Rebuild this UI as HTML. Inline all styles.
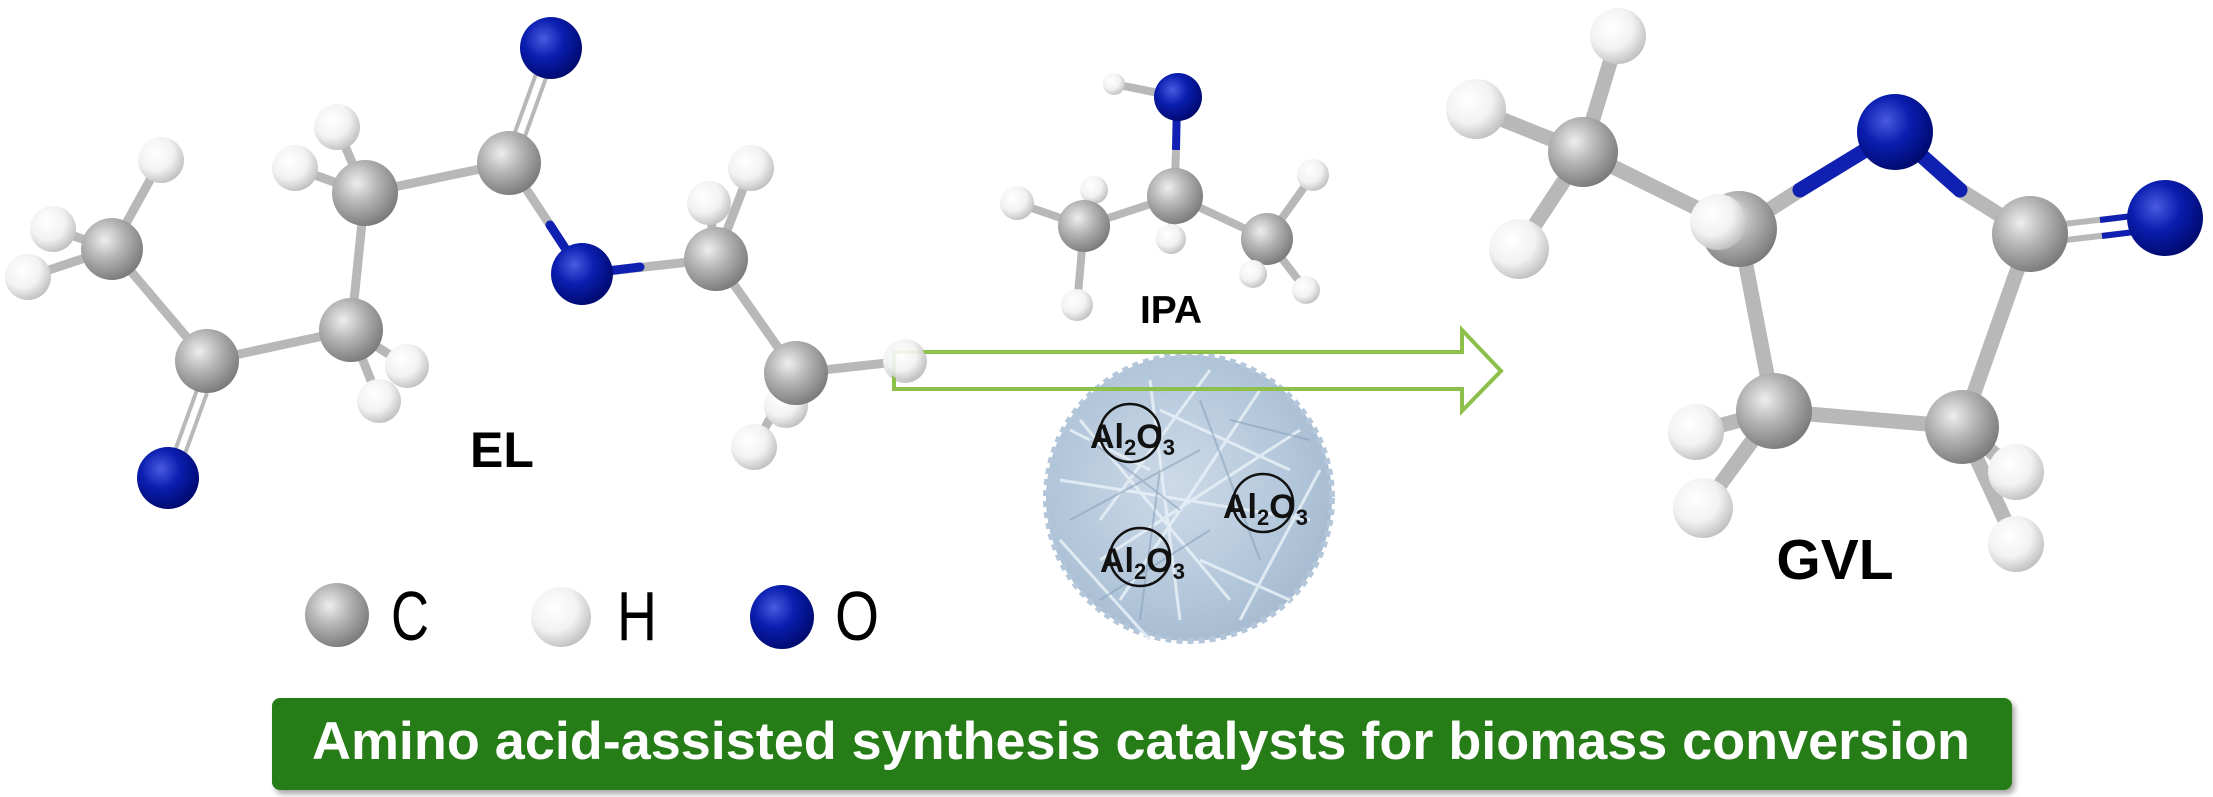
<!DOCTYPE html>
<html><head><meta charset="utf-8"><style>
html,body{margin:0;padding:0;background:#fff;}
svg{display:block;}
text{font-family:"Liberation Sans",Arial,sans-serif;}
</style></head><body>
<svg width="2213" height="797" viewBox="0 0 2213 797" xmlns="http://www.w3.org/2000/svg">
<defs>
<radialGradient id="gC" cx="0.38" cy="0.35" r="0.7"><stop offset="0" stop-color="#eeeeee"/><stop offset="0.45" stop-color="#b4b4b4"/><stop offset="1" stop-color="#777"/></radialGradient>
<radialGradient id="gH" cx="0.38" cy="0.35" r="0.7"><stop offset="0" stop-color="#ffffff"/><stop offset="0.55" stop-color="#f2f2f2"/><stop offset="1" stop-color="#bdbdbd"/></radialGradient>
<radialGradient id="gO" cx="0.38" cy="0.35" r="0.7"><stop offset="0" stop-color="#4a5ae0"/><stop offset="0.45" stop-color="#0a1eb0"/><stop offset="1" stop-color="#00086a"/></radialGradient>
<radialGradient id="gS" cx="0.45" cy="0.45" r="0.6"><stop offset="0" stop-color="#ccdae8"/><stop offset="0.7" stop-color="#b2c6da"/><stop offset="1" stop-color="#a4b9cf"/></radialGradient>
<filter id="sh" x="-5%" y="-20%" width="110%" height="150%"><feDropShadow dx="3" dy="4" stdDeviation="3" flood-color="#000" flood-opacity="0.35"/></filter>
</defs>

<!-- EL bonds -->
<g stroke="#b8b8b8" stroke-width="9" stroke-linecap="round" fill="none">
<line x1="112" y1="249" x2="161" y2="160"/>
<line x1="112" y1="249" x2="53" y2="229"/>
<line x1="112" y1="249" x2="28" y2="277"/>
<line x1="112" y1="249" x2="207" y2="361"/>
<line x1="207" y1="361" x2="351" y2="330"/>
<line x1="351" y1="330" x2="407" y2="366"/>
<line x1="351" y1="330" x2="379" y2="401"/>
<line x1="351" y1="330" x2="365" y2="193"/>
<line x1="365" y1="193" x2="337" y2="127"/>
<line x1="365" y1="193" x2="295" y2="168"/>
<line x1="365" y1="193" x2="509" y2="163"/>
<line x1="509" y1="163" x2="550" y2="225"/>
<line x1="582" y1="274" x2="716" y2="259"/>
<line x1="716" y1="259" x2="751" y2="168"/>
<line x1="716" y1="259" x2="709" y2="203"/>
<line x1="716" y1="259" x2="796" y2="373"/>
<line x1="796" y1="373" x2="905" y2="361"/>
<line x1="796" y1="373" x2="786" y2="406"/>
<line x1="796" y1="373" x2="754" y2="447"/>
</g>
<g stroke="#1020b0" stroke-width="9" stroke-linecap="round">
<line x1="550" y1="225" x2="582" y2="274"/>
<line x1="582" y1="274" x2="640" y2="267"/>
</g>
<g stroke-width="4">
<line x1="197" y1="390" x2="168" y2="470" stroke="#b8b8b8"/>
<line x1="207" y1="393" x2="178" y2="473" stroke="#b8b8b8"/>
<line x1="514" y1="135" x2="541" y2="60" stroke="#b8b8b8"/>
<line x1="524" y1="139" x2="551" y2="64" stroke="#b8b8b8"/>
</g>
<!-- EL atoms -->
<g>
<circle cx="161" cy="160" r="23" fill="url(#gH)"/>
<circle cx="53" cy="229" r="23" fill="url(#gH)"/>
<circle cx="28" cy="277" r="23" fill="url(#gH)"/>
<circle cx="112" cy="249" r="31" fill="url(#gC)"/>
<circle cx="207" cy="361" r="32" fill="url(#gC)"/>
<circle cx="168" cy="478" r="31" fill="url(#gO)"/>
<circle cx="337" cy="127" r="23" fill="url(#gH)"/>
<circle cx="295" cy="168" r="23" fill="url(#gH)"/>
<circle cx="365" cy="193" r="33" fill="url(#gC)"/>
<circle cx="407" cy="366" r="22" fill="url(#gH)"/>
<circle cx="379" cy="401" r="22" fill="url(#gH)"/>
<circle cx="351" cy="330" r="32" fill="url(#gC)"/>
<circle cx="551" cy="48" r="31" fill="url(#gO)"/>
<circle cx="509" cy="163" r="32" fill="url(#gC)"/>
<circle cx="582" cy="274" r="31" fill="url(#gO)"/>
<circle cx="751" cy="168" r="23" fill="url(#gH)"/>
<circle cx="709" cy="203" r="22" fill="url(#gH)"/>
<circle cx="716" cy="259" r="32" fill="url(#gC)"/>
<circle cx="786" cy="406" r="22" fill="url(#gH)"/>
<circle cx="754" cy="447" r="23" fill="url(#gH)"/>
<circle cx="796" cy="373" r="32" fill="url(#gC)"/>
<circle cx="905" cy="361" r="22" fill="url(#gH)"/>
</g>
<text x="502" y="467" font-size="50" font-weight="bold" text-anchor="middle">EL</text>

<!-- legend -->
<circle cx="337" cy="615" r="32" fill="url(#gC)"/>
<text x="391" y="640" font-size="70" textLength="38" lengthAdjust="spacingAndGlyphs">C</text>
<circle cx="561" cy="617" r="30" fill="url(#gH)"/>
<text x="617" y="640" font-size="70" textLength="40" lengthAdjust="spacingAndGlyphs">H</text>
<circle cx="782" cy="617" r="32" fill="url(#gO)"/>
<text x="835" y="640" font-size="70" textLength="44" lengthAdjust="spacingAndGlyphs">O</text>

<!-- catalyst sphere -->
<circle cx="1189" cy="498" r="143" fill="url(#gS)" stroke="#b4c7da" stroke-width="6" stroke-dasharray="6 5"/>
<g stroke="#e8f0f7" stroke-width="3" fill="none" opacity="0.85">
<path d="M1080 420 L1230 600 M1100 560 L1300 430 M1150 380 L1180 620 M1060 480 L1310 520 M1120 600 L1260 390 M1210 370 L1100 520 M1240 620 L1320 470 M1070 430 L1150 470 M1200 560 L1290 600 M1160 410 L1290 470 M1060 540 L1150 640"/>
</g>
<g stroke="#8aa2bc" stroke-width="2" fill="none" opacity="0.6">
<path d="M1070 520 L1200 450 M1140 620 L1160 470 M1260 560 L1200 400 M1090 440 L1180 510 M1230 420 L1310 440 M1100 600 L1210 530"/>
</g>
<g fill="none" stroke="#111" stroke-width="2.5">
<ellipse cx="1130" cy="433" rx="30" ry="29"/>
<ellipse cx="1263" cy="503" rx="30" ry="29"/>
<ellipse cx="1140" cy="557" rx="30" ry="29"/>
</g>
<g font-size="34" font-weight="bold" fill="#111">
<text x="1090" y="448">Al<tspan font-size="22" dy="7">2</tspan><tspan dy="-7">O</tspan><tspan font-size="22" dy="7">3</tspan></text>
<text x="1223" y="518">Al<tspan font-size="22" dy="7">2</tspan><tspan dy="-7">O</tspan><tspan font-size="22" dy="7">3</tspan></text>
<text x="1100" y="572">Al<tspan font-size="22" dy="7">2</tspan><tspan dy="-7">O</tspan><tspan font-size="22" dy="7">3</tspan></text>
</g>

<!-- IPA -->
<g stroke="#b8b8b8" stroke-width="8" stroke-linecap="round">
<line x1="1175" y1="196" x2="1084" y2="226"/>
<line x1="1175" y1="196" x2="1267" y2="239"/>
<line x1="1175" y1="196" x2="1171" y2="239"/>
<line x1="1084" y1="226" x2="1017" y2="203"/>
<line x1="1084" y1="226" x2="1077" y2="305"/>
<line x1="1084" y1="226" x2="1094" y2="190"/>
<line x1="1267" y1="239" x2="1313" y2="175"/>
<line x1="1267" y1="239" x2="1253" y2="274"/>
<line x1="1267" y1="239" x2="1306" y2="290"/>
<line x1="1178" y1="97" x2="1114" y2="84"/>
</g>
<line x1="1177" y1="100" x2="1176" y2="150" stroke="#1020b0" stroke-width="8"/>
<line x1="1176" y1="150" x2="1175" y2="180" stroke="#b8b8b8" stroke-width="8"/>
<circle cx="1114" cy="84" r="11" fill="url(#gH)"/>
<circle cx="1178" cy="97" r="24" fill="url(#gO)"/>
<circle cx="1017" cy="203" r="17" fill="url(#gH)"/>
<circle cx="1094" cy="190" r="14" fill="url(#gH)"/>
<circle cx="1084" cy="226" r="26" fill="url(#gC)"/>
<circle cx="1077" cy="305" r="16" fill="url(#gH)"/>
<circle cx="1171" cy="239" r="15" fill="url(#gH)"/>
<circle cx="1175" cy="196" r="28" fill="url(#gC)"/>
<circle cx="1313" cy="175" r="16" fill="url(#gH)"/>
<circle cx="1267" cy="239" r="26" fill="url(#gC)"/>
<circle cx="1253" cy="274" r="14" fill="url(#gH)"/>
<circle cx="1306" cy="290" r="14" fill="url(#gH)"/>
<text x="1171" y="323" font-size="39" font-weight="bold" text-anchor="middle">IPA</text>

<!-- arrow (hollow) -->
<path d="M894 352 L1462 352 L1462 330 L1501 371 L1462 411 L1462 389 L894 389 Z" fill="none" stroke="#8cc04a" stroke-width="4" stroke-linejoin="miter"/>
<circle cx="906" cy="361" r="20" fill="url(#gH)" opacity="0.9"/>

<!-- GVL bonds -->
<g stroke="#b8b8b8" stroke-width="15" stroke-linecap="round">
<line x1="1583" y1="152" x2="1618" y2="36"/>
<line x1="1583" y1="152" x2="1476" y2="109"/>
<line x1="1583" y1="152" x2="1519" y2="249"/>
<line x1="1583" y1="152" x2="1739" y2="229"/>
<line x1="1739" y1="229" x2="1800" y2="190"/>
<line x1="1960" y1="190" x2="2030" y2="234"/>
<line x1="1739" y1="229" x2="1774" y2="411"/>
<line x1="1774" y1="411" x2="1962" y2="427"/>
<line x1="1962" y1="427" x2="2030" y2="234"/>
<line x1="1774" y1="411" x2="1696" y2="432"/>
<line x1="1774" y1="411" x2="1703" y2="508"/>
<line x1="1962" y1="427" x2="2016" y2="472"/>
<line x1="1962" y1="427" x2="2016" y2="544"/>
</g>
<g stroke="#1020b0" stroke-width="15" stroke-linecap="round">
<line x1="1800" y1="190" x2="1895" y2="132"/>
<line x1="1895" y1="132" x2="1960" y2="190"/>
</g>
<g stroke-width="6">
<line x1="2030" y1="228" x2="2165" y2="212" stroke="#b8b8b8"/>
<line x1="2032" y1="244" x2="2167" y2="228" stroke="#b8b8b8"/>
<line x1="2100" y1="220" x2="2165" y2="212" stroke="#1020b0"/>
<line x1="2102" y1="236" x2="2167" y2="228" stroke="#1020b0"/>
</g>
<circle cx="1618" cy="36" r="28" fill="url(#gH)"/>
<circle cx="1476" cy="109" r="30" fill="url(#gH)"/>
<circle cx="1519" cy="249" r="30" fill="url(#gH)"/>
<circle cx="1583" cy="152" r="35" fill="url(#gC)"/>
<circle cx="1739" cy="229" r="38" fill="url(#gC)"/>
<circle cx="1718" cy="222" r="28" fill="url(#gH)"/>
<circle cx="1895" cy="132" r="38" fill="url(#gO)"/>
<circle cx="2030" cy="234" r="38" fill="url(#gC)"/>
<circle cx="2165" cy="218" r="38" fill="url(#gO)"/>
<circle cx="1696" cy="432" r="28" fill="url(#gH)"/>
<circle cx="1703" cy="508" r="30" fill="url(#gH)"/>
<circle cx="1774" cy="411" r="38" fill="url(#gC)"/>
<circle cx="2016" cy="472" r="28" fill="url(#gH)"/>
<circle cx="2016" cy="544" r="28" fill="url(#gH)"/>
<circle cx="1962" cy="427" r="37" fill="url(#gC)"/>
<text x="1835" y="579" font-size="57" font-weight="bold" text-anchor="middle">GVL</text>

<!-- banner -->
<rect x="272" y="698" width="1740" height="92" rx="8" fill="#277b15" filter="url(#sh)"/>
<text x="312" y="759" font-size="53" font-weight="bold" fill="#fff" textLength="1658" lengthAdjust="spacingAndGlyphs">Amino acid-assisted synthesis catalysts for biomass conversion</text>
</svg>
</body></html>
